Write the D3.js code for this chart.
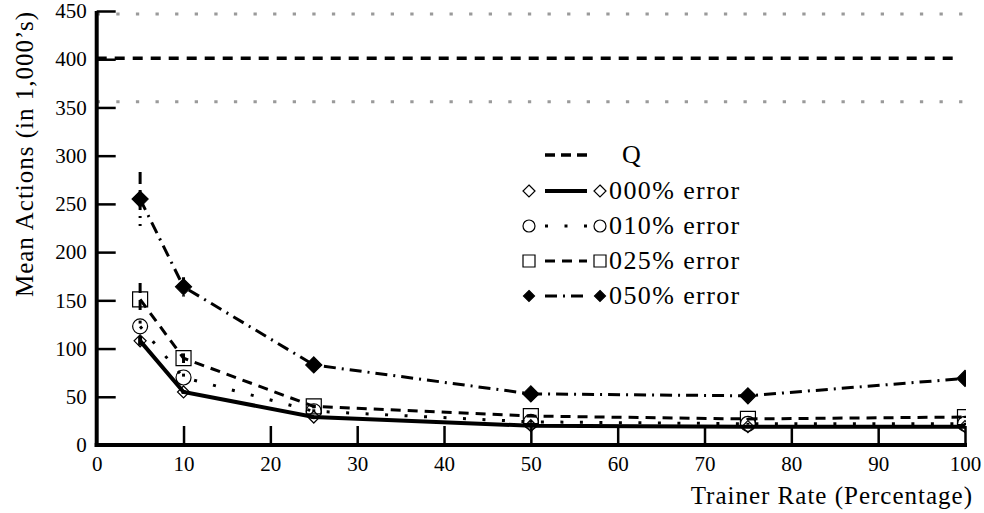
<!DOCTYPE html>
<html>
<head>
<meta charset="utf-8">
<script src="https://cdn.jsdelivr.net/npm/d3@7"></script>
<style>
    body { margin: 0; background: #fff; }
    svg text { font-family: "Liberation Serif", "Times New Roman", serif; fill: #000; }
</style>
</head>
<body>
<svg id="chart"></svg>
<script>
// data (mean actions, in 1,000's)
const trainerRate = [5, 10, 25, 50, 75, 100];
const seriesNames = ["000% error", "010% error", "025% error", "050% error"];
const mean000 = [108, 55, 29, 20, 19, 19];
const mean010 = [123, 70, 35, 24, 22, 22];
const mean025 = [151, 90, 40, 30, 27, 29];
const mean050 = [255, 164, 83, 53, 51, 69];
const spread000 = [5, 2, 1, 1, 1, 1];
const spread010 = [6, 4, 2, 1, 1, 1];
const spread025 = [17, 5, 2, 1, 1, 1];
const spread050 = [28, 10, 3, 2, 1, 1];
const qMean = 401;
const qLow = 356;
const qHigh = 447;
const xTicks = [0, 10, 20, 30, 40, 50, 60, 70, 80, 90, 100];
const yTicks = [0, 50, 100, 150, 200, 250, 300, 350, 400, 450];

const config = {
    width: 984,
    height: 513,
    margin: { top: 11, right: 19, bottom: 68, left: 96.7 },
    tickFont: 21,
    titleFont: 25,
    legendFont: 26
};

// styles per series, same order as seriesNames
const styles = [
    { dash: null, width: 4, marker: "diamond", size: 12, fill: "none" },
    { dash: "3,16.5", width: 3, marker: "circle", size: 15, fill: "none" },
    { dash: "10,7", width: 3, marker: "square", size: 15, fill: "none" },
    { dash: "12,6,2,6", width: 3, marker: "diamond", size: 16, fill: "#000" }
];

const series = [mean000, mean010, mean025, mean050].map((m, i) => ({
    name: seriesNames[i],
    style: styles[i],
    points: trainerRate.map((r, j) => ({
        rate: r,
        value: m[j],
        spread: [spread000, spread010, spread025, spread050][i][j]
    }))
}));

const innerW = config.width - config.margin.left - config.margin.right;
const innerH = config.height - config.margin.top - config.margin.bottom;

const svg = d3.select("#chart")
    .attr("width", config.width)
    .attr("height", config.height);

const xScale = d3.scaleLinear().domain([0, 100]).range([0, innerW]);
const yScale = d3.scaleLinear().domain([0, 450]).range([innerH, 0]);

const chart = svg.append("g")
    .attr("transform", `translate(${config.margin.left},${config.margin.top})`);

svg.append("defs").append("clipPath").attr("id", "plotClip")
    .append("rect")
    .attr("x", -config.margin.left)
    .attr("y", -config.margin.top)
    .attr("width", config.margin.left + innerW + 1)
    .attr("height", config.height);

// marker path (centered at 0,0)
function markerPath(type, size) {
    if (type === "circle") {
        return d3.symbol().type(d3.symbolCircle).size(Math.PI * (size / 2) ** 2)();
    }
    if (type === "square") {
        return d3.symbol().type(d3.symbolSquare).size(size * size)();
    }
    // diamond: square rotated 45deg, size = full width
    const h = size / 2;
    return `M0,${-h}L${h},0L0,${h}L${-h},0Z`;
}

// Q reference lines
chart.selectAll(".q-bound")
    .data([qLow, qHigh])
    .enter()
    .append("line")
    .attr("x1", xScale(0))
    .attr("x2", xScale(100))
    .attr("y1", d => yScale(d))
    .attr("y2", d => yScale(d))
    .attr("stroke", "#9a9a9a")
    .attr("stroke-width", 3)
    .attr("stroke-dasharray", "3.3,16.3");

chart.append("line")
    .attr("x1", xScale(0))
    .attr("x2", xScale(100) - 8)
    .attr("y1", yScale(qMean))
    .attr("y2", yScale(qMean))
    .attr("stroke", "#000")
    .attr("stroke-width", 3.3)
    .attr("stroke-dasharray", "10,8");

// axes
const yAxis = d3.axisLeft(yScale)
    .tickValues(yTicks)
    .tickSizeInner(-19)
    .tickSizeOuter(0)
    .tickPadding(10);

const xAxis = d3.axisBottom(xScale)
    .tickValues(xTicks)
    .tickSizeInner(-19)
    .tickSizeOuter(0)
    .tickPadding(11);

const yAxisG = chart.append("g").call(yAxis);
const xAxisG = chart.append("g").attr("transform", `translate(0,${innerH})`).call(xAxis);

[yAxisG, xAxisG].forEach(g => {
    g.attr("font-family", null).attr("font-size", null);
    g.select(".domain").remove();
    g.selectAll(".tick line").attr("stroke", "#000").attr("stroke-width", 2.5);
    g.selectAll(".tick text")
        .style("font-family", '"Liberation Serif", "Times New Roman", serif')
        .style("font-size", config.tickFont + "px")
        .attr("fill", "#000");
});
xAxisG.selectAll(".tick").filter(d => d === 0).select("line").remove();

chart.append("line")
    .attr("x1", 0).attr("x2", 0)
    .attr("y1", yScale(450)).attr("y2", innerH + 2)
    .attr("stroke", "#000").attr("stroke-width", 4);

chart.append("line")
    .attr("x1", -2).attr("x2", xScale(100) + 2)
    .attr("y1", innerH).attr("y2", innerH)
    .attr("stroke", "#000").attr("stroke-width", 4);

// series
const plot = chart.append("g").attr("clip-path", "url(#plotClip)");

const line = d3.line()
    .x(d => xScale(d.rate))
    .y(d => yScale(d.value));

series.forEach(s => {
    const g = plot.append("g");

    g.append("path")
        .datum(s.points)
        .attr("d", line)
        .attr("fill", "none")
        .attr("stroke", "#000")
        .attr("stroke-width", s.style.width)
        .attr("stroke-dasharray", s.style.dash);

    g.selectAll(".err")
        .data(s.points)
        .enter()
        .append("line")
        .attr("x1", d => xScale(d.rate))
        .attr("x2", d => xScale(d.rate))
        .attr("y1", d => yScale(d.value + d.spread))
        .attr("y2", d => yScale(d.value - d.spread))
        .attr("stroke", "#000")
        .attr("stroke-width", s.style.width)
        .attr("stroke-dasharray", s.style.dash);

    g.selectAll(".marker")
        .data(s.points)
        .enter()
        .append("path")
        .attr("d", markerPath(s.style.marker, s.style.size))
        .attr("transform", d => `translate(${xScale(d.rate)},${yScale(d.value)})`)
        .attr("fill", s.style.fill)
        .attr("stroke", "#000")
        .attr("stroke-width", 1.2);
});

// legend
const legend = svg.append("g").attr("transform", "translate(529,155)");
const rowGap = 35;

legend.append("line")
    .attr("x1", 16).attr("x2", 58)
    .attr("y1", 0).attr("y2", 0)
    .attr("stroke", "#000").attr("stroke-width", 3.3)
    .attr("stroke-dasharray", "10,6");
legend.append("text")
    .attr("x", 93).attr("y", 8)
    .style("font-size", config.legendFont + "px")
    .text("Q");

series.forEach((s, i) => {
    const row = legend.append("g").attr("transform", `translate(0,${(i + 1) * rowGap + 1})`);
    const mSize = s.style.marker === "diamond" && s.style.fill !== "none" ? 11 : 12;
    row.append("line")
        .attr("x1", 16).attr("x2", 58)
        .attr("y1", 0).attr("y2", 0)
        .attr("stroke", "#000")
        .attr("stroke-width", s.style.width)
        .attr("stroke-dasharray", s.style.dash);
    [0, 71].forEach(dx => {
        row.append("path")
            .attr("d", markerPath(s.style.marker, mSize))
            .attr("transform", `translate(${dx},0)`)
            .attr("fill", s.style.fill)
            .attr("stroke", "#000")
            .attr("stroke-width", 1.2);
    });
    row.append("text")
        .attr("x", 80).attr("y", 8)
        .style("font-size", config.legendFont + "px")
        .style("letter-spacing", "1.4px")
        .text(s.name);
});

// axis titles
svg.append("text")
    .attr("x", 973)
    .attr("y", 504)
    .attr("text-anchor", "end")
    .style("font-size", config.titleFont + "px")
    .style("letter-spacing", "1px")
    .text("Trainer Rate (Percentage)");

svg.append("text")
    .attr("transform", "translate(33,154) rotate(-90)")
    .attr("text-anchor", "middle")
    .style("font-size", config.titleFont + "px")
    .style("letter-spacing", "1px")
    .text("Mean Actions (in 1,000\u2019s)");
</script>
</body>
</html>
